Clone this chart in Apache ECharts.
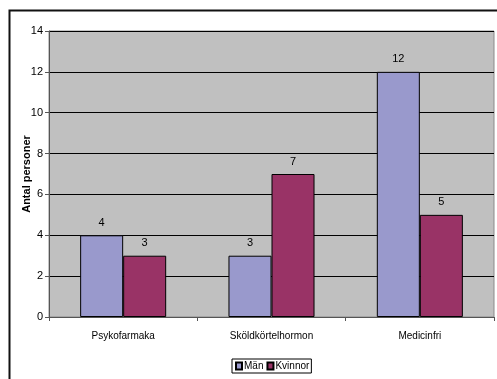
<!DOCTYPE html>
<html>
<head>
<meta charset="utf-8">
<script src="https://cdn.jsdelivr.net/npm/echarts@6/dist/echarts.min.js"></script>
<style>
  html, body { margin: 0; padding: 0; background: #fff; }
  #chart { width: 497px; height: 379px; }
</style>
</head>
<body>
<div id="chart"></div>
<script>
// Categories and counts per group
const categories = ['Psykofarmaka', 'Sköldkörtelhormon', 'Medicinfri'];
const manValues = [4, 3, 12];
const kvinnorValues = [3, 7, 5];
const yTicks = [0, 2, 4, 6, 8, 10, 12, 14];
const seriesNames = ['Män', 'Kvinnor'];

const chart = echarts.init(document.getElementById('chart'), null, { renderer: 'canvas' });

const valueLabel = {
  show: true,
  position: 'top',
  distance: 7,
  color: '#000',
  fontFamily: 'Liberation Sans, Arial, sans-serif',
  fontSize: 11
};

chart.setOption({
  animation: false,
  backgroundColor: '#ffffff',
  graphic: [
    {
      type: 'rect',
      left: 7, top: 8,
      shape: { width: 520, height: 400 },
      style: { fill: 'none', stroke: '#111', lineWidth: 2 },
      z: 100
    }
  ],
  grid: {
    left: 49, top: 31, right: 3, bottom: 62,
    show: true,
    backgroundColor: '#c0c0c0',
    borderColor: '#8a8a8a',
    borderWidth: 1
  },
  legend: {
    data: seriesNames,
    left: 232, top: 359,
    orient: 'horizontal',
    icon: 'rect',
    itemWidth: 6, itemHeight: 7,
    itemGap: 3,
    padding: [2, 2, 2, 3],
    borderColor: '#000',
    borderWidth: 1,
    textStyle: {
      color: '#000',
      fontFamily: 'Liberation Sans Narrow, Liberation Sans, Arial, sans-serif',
      fontSize: 10,
      padding: [0, 0, 0, -3]
    },
    selectedMode: false
  },
  xAxis: {
    type: 'category',
    data: categories,
    boundaryGap: true,
    axisLine: { show: true, lineStyle: { color: '#555', width: 1 } },
    axisTick: { show: true, alignWithLabel: false, length: 4, lineStyle: { color: '#555' } },
    axisLabel: {
      color: '#000',
      fontFamily: 'Liberation Sans Narrow, Liberation Sans, Arial, sans-serif',
      fontSize: 10,
      margin: 14
    },
    splitLine: { show: false }
  },
  yAxis: {
    type: 'value',
    min: 0, max: 14, interval: 2,
    name: 'Antal personer',
    nameLocation: 'middle',
    nameGap: 22,
    nameMoveOverlap: false,
    nameRotate: 90,
    nameTextStyle: {
      color: '#000',
      fontFamily: 'Liberation Sans, Arial, sans-serif',
      fontSize: 11,
      fontWeight: 'bold',
      verticalAlign: 'middle'
    },
    axisLine: { show: true, lineStyle: { color: '#555', width: 1 } },
    axisTick: { show: true, length: 4, lineStyle: { color: '#555' } },
    axisLabel: {
      color: '#000',
      fontFamily: 'Liberation Sans, Arial, sans-serif',
      fontSize: 11,
      margin: 6,
      formatter: v => (yTicks.includes(v) ? String(v) : '')
    },
    splitLine: { show: true, lineStyle: { color: '#000', width: 1 } }
  },
  series: [
    {
      name: seriesNames[0],
      type: 'bar',
      data: manValues,
      barGap: '0%',
      barCategoryGap: '42%',
      itemStyle: { color: '#9999cc', borderColor: '#000', borderWidth: 1 },
      label: valueLabel
    },
    {
      name: seriesNames[1],
      type: 'bar',
      data: kvinnorValues,
      barGap: '0%',
      barCategoryGap: '42%',
      itemStyle: { color: '#993366', borderColor: '#000', borderWidth: 1 },
      label: valueLabel
    }
  ]
});
</script>
</body>
</html>
